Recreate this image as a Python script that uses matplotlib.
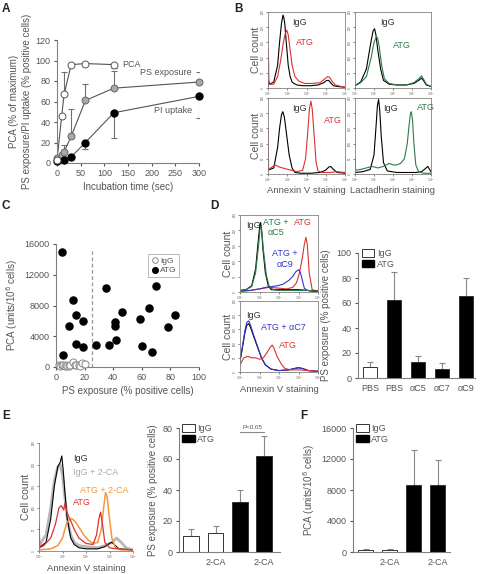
import matplotlib
matplotlib.use('Agg')
import matplotlib.pyplot as plt
from matplotlib.patches import Patch

plt.rcParams['font.family'] = ['Liberation Sans', 'DejaVu Sans']
TXT = '#555555'
EDGE = '#808080'
plt.rcParams.update({'text.color': TXT, 'axes.labelcolor': TXT, 'xtick.color': TXT,
                     'ytick.color': TXT, 'axes.edgecolor': EDGE, 'font.size': 6.5,
                     'axes.linewidth': 0.8, 'xtick.major.width': 0.8, 'ytick.major.width': 0.8,
                     'xtick.major.size': 2.5, 'ytick.major.size': 2.5,
                     'xtick.major.pad': 2, 'ytick.major.pad': 2})

RED = '#dd3030'
GREEN = '#2f7a4a'
BLUE = '#3535d0'
ORANGE = '#f5963a'
LGRAY = '#b8b8b8'

# ---------------- Panel A data ----------------
a_t_pca = [0, 10, 15, 30, 60, 120]
a_pca = [3, 46, 67, 96, 97, 96]
a_pca_up = [0, 0, 22, 0, 0, 2]
a_pca_dn = [0, 0, 0, 0, 0, 3]
a_t_ps = [0, 10, 15, 30, 60, 120, 300]
a_ps = [5, 8, 11, 26, 61, 73, 79]
a_ps_up = [0, 0, 7, 27, 16, 17, 10]
a_t_pi = [0, 15, 30, 60, 120, 300]
a_pi = [2, 3, 6, 20, 49, 65]
a_pi_dn = [0, 0, 0, 6, 25, 21]

# ---------------- Panel B histograms (log10 fluorescence, % of axis height) ----------------
b_tl_igg_x = [0, 0.02, 0.1, 0.3, 0.5, 0.6, 0.7, 0.78, 0.82, 0.87, 0.95, 1.05, 1.15, 1.25, 1.35, 1.5, 1.8, 2.2, 2.6, 2.9, 3.05, 3.15, 3.25, 3.4, 3.6, 4.0]
b_tl_igg_y = [2, 10, 5, 8, 30, 60, 85, 96, 93, 85, 60, 30, 15, 8, 6, 4, 3, 3, 4, 7, 10, 10, 7, 3, 2, 1]
b_tl_atg_x = [0, 0.02, 0.05, 0.3, 0.5, 0.65, 0.8, 0.9, 0.98, 1.05, 1.15, 1.25, 1.4, 1.6, 1.9, 2.3, 2.7, 2.95, 3.1, 3.2, 3.35, 3.5, 3.8, 4.0]
b_tl_atg_y = [52, 50, 5, 5, 15, 35, 60, 72, 76, 70, 50, 30, 15, 9, 6, 6, 7, 12, 15, 14, 8, 4, 2, 1]
b_tr_igg_x = [0, 0.3, 0.6, 0.8, 0.95, 1.03, 1.1, 1.2, 1.35, 1.5, 1.8, 2.2, 2.7, 3.1, 3.35, 3.5, 3.6, 3.75, 4.0]
b_tr_igg_y = [3, 8, 25, 55, 75, 78, 70, 50, 25, 10, 5, 4, 4, 6, 10, 13, 10, 4, 2]
b_tr_atg_x = [0, 0.3, 0.6, 0.85, 1.0, 1.12, 1.19, 1.27, 1.4, 1.55, 1.8, 2.2, 2.7, 3.1, 3.35, 3.5, 3.6, 3.75, 4.0]
b_tr_atg_y = [3, 7, 15, 40, 60, 67, 66, 55, 30, 12, 6, 4, 4, 7, 12, 16, 12, 5, 2]
b_bl_igg_x = [0, 0.3, 0.5, 0.6, 0.7, 0.77, 0.85, 0.95, 1.1, 1.25, 1.4, 1.7, 2.2, 2.7, 3.0, 3.15, 3.26, 3.4, 3.6, 4.0]
b_bl_igg_y = [5, 8, 35, 60, 78, 82, 75, 55, 25, 8, 2, 1, 1, 2, 5, 9, 10, 6, 2, 1]
b_bl_atg_x = [0, 0.01, 0.03, 0.2, 0.35, 0.6, 0.9, 1.2, 1.5, 1.8, 1.95, 2.05, 2.15, 2.23, 2.3, 2.4, 2.5, 2.6, 2.8, 3.2, 3.6, 4.0]
b_bl_atg_y = [60, 60, 6, 9, 12, 9, 7, 5, 3, 5, 20, 50, 85, 96, 85, 50, 15, 4, 2, 2, 3, 2]
b_br_igg_x = [0, 0.4, 0.8, 1.0, 1.1, 1.18, 1.24, 1.3, 1.38, 1.5, 1.7, 2.2, 2.7, 3.2, 3.5, 3.7, 3.83, 3.95, 4.0]
b_br_igg_y = [2, 3, 6, 25, 60, 90, 98, 85, 50, 15, 4, 2, 2, 2, 3, 7, 10, 5, 3]
b_br_atg_x = [0, 0.01, 0.03, 0.3, 0.6, 0.9, 1.2, 1.5, 1.8, 2.0, 2.2, 2.4, 2.6, 2.75, 2.85, 2.92, 2.97, 3.03, 3.1, 3.2, 3.35, 3.6, 4.0]
b_br_atg_y = [20, 20, 5, 6, 8, 10, 8, 10, 14, 12, 12, 14, 20, 40, 65, 80, 82, 70, 40, 12, 3, 1, 1]

# ---------------- Panel C data ----------------
c_igg_x = [2, 3, 4, 5, 6, 7, 8, 9, 10, 12, 13, 14, 16, 17, 18, 20]
c_igg_y = [300, 100, 200, 300, 100, 300, 150, 100, 200, 600, 200, 300, 300, 100, 500, 400]
c_atg_x = [4, 5, 9, 12, 14, 14, 19, 19, 28, 35, 37, 41, 41, 42, 46, 59, 60, 65, 67, 70, 78, 83]
c_atg_y = [15000, 1600, 5300, 8700, 6700, 3000, 6000, 2600, 2900, 10300, 2900, 5900, 5300, 3500, 7200, 6300, 2700, 7700, 1900, 10600, 5200, 6700]
c_cutoff = 25
c_cutoff_top = 15300

# ---------------- Panel D histograms ----------------
d1_igg_x = [0, 0.3, 0.6, 0.8, 0.95, 1.02, 1.06, 1.1, 1.18, 1.3, 1.45, 1.6, 2.0, 2.5, 3.0, 3.5, 4.0]
d1_igg_y = [2, 3, 8, 30, 70, 88, 90, 82, 55, 25, 8, 3, 3, 3, 3, 2, 1]
d1_c5_x = [0, 0.3, 0.6, 0.8, 0.95, 1.03, 1.08, 1.12, 1.2, 1.35, 1.5, 1.7, 2.0, 2.5, 3.0, 3.5, 4.0]
d1_c5_y = [2, 3, 7, 25, 60, 82, 85, 78, 55, 22, 7, 3, 2, 2, 2, 2, 1]
d1_atg_x = [0, 0.5, 1.0, 1.5, 2.0, 2.4, 2.7, 2.9, 3.05, 3.2, 3.3, 3.38, 3.45, 3.55, 3.7, 4.0]
d1_atg_y = [1, 2, 4, 6, 5, 4, 6, 12, 25, 45, 62, 71, 62, 25, 3, 1]
d1_c9_x = [0, 0.5, 1.0, 1.3, 1.6, 1.9, 2.2, 2.5, 2.7, 2.85, 2.95, 3.02, 3.1, 3.2, 3.3, 3.45, 3.7, 4.0]
d1_c9_y = [1, 2, 4, 6, 7, 8, 10, 15, 20, 26, 28, 29, 25, 15, 5, 2, 1, 1]
d2_x = [0, 0.1, 0.25, 0.35, 0.45, 0.55, 0.7, 0.9, 1.1, 1.3, 1.6, 2.0, 2.5, 2.8, 3.0, 3.2, 3.5, 4.0]
d2_igg_y = [15, 30, 55, 66, 68, 62, 50, 35, 20, 10, 4, 2, 3, 5, 6, 5, 2, 1]
d2_c7_y = [15, 32, 58, 70, 72, 65, 52, 36, 20, 10, 4, 2, 3, 5, 6, 5, 2, 1]
d2_atg_x = [0, 0.2, 0.4, 0.6, 0.8, 1.0, 1.2, 1.4, 1.55, 1.65, 1.75, 1.9, 2.1, 2.3, 2.6, 3.0, 3.5, 4.0]
d2_atg_y = [10, 20, 22, 20, 20, 18, 20, 28, 35, 38, 33, 22, 12, 5, 3, 3, 2, 1]

# ---------------- Panel D bars ----------------
d_cats = ['PBS', 'PBS', 'αC5', 'αC7', 'αC9']
d_groups = ['IgG', 'ATG', 'ATG', 'ATG', 'ATG']
d_vals = [9, 62.5, 13, 7.5, 66]
d_errs = [4, 22.5, 4.5, 4.5, 14]

# ---------------- Panel E histogram ----------------
e_igg_x = [0, 0.3, 0.5, 0.65, 0.8, 0.9, 0.97, 1.03, 1.1, 1.2, 1.35, 1.5, 1.7, 2.0, 2.5, 2.8, 3.0, 3.1, 3.2, 3.4, 4.0]
e_igg_y = [3, 8, 30, 60, 78, 82, 88, 75, 55, 30, 12, 6, 3, 2, 2, 4, 7, 8, 6, 2, 1]
e_igg2_x = [0, 0.3, 0.5, 0.65, 0.8, 0.9, 1.0, 1.1, 1.2, 1.35, 1.5, 1.7, 2.0, 2.5, 2.8, 3.1, 3.3, 3.5, 3.7, 4.0]
e_igg2_y = [5, 15, 40, 65, 78, 80, 70, 50, 30, 15, 8, 5, 4, 3, 5, 8, 12, 8, 3, 1]
e_atg_x = [0, 0.01, 0.03, 0.2, 0.5, 0.7, 0.85, 0.95, 1.05, 1.1, 1.2, 1.35, 1.5, 1.7, 2.0, 2.3, 2.45, 2.55, 2.62, 2.7, 2.8, 3.0, 3.3, 4.0]
e_atg_y = [25, 25, 3, 5, 12, 25, 40, 42, 38, 44, 35, 28, 20, 12, 7, 6, 15, 30, 36, 25, 8, 3, 2, 1]
e_atg2_x = [0, 0.5, 0.8, 1.0, 1.1, 1.2, 1.3, 1.4, 1.55, 1.7, 1.9, 2.1, 2.3, 2.5, 2.65, 2.75, 2.83, 2.9, 3.0, 3.1, 3.25, 3.5, 4.0]
e_atg2_y = [1, 2, 5, 12, 20, 27, 29, 30, 27, 22, 15, 10, 7, 8, 20, 40, 54, 50, 30, 12, 3, 1, 1]

# ---------------- Panel E / F bars ----------------
ef_cats = ['', '2-CA', '', '2-CA']
ef_groups = ['IgG', 'IgG', 'ATG', 'ATG']
e_vals = [10.5, 12.2, 32.5, 62]
e_errs = [4.5, 4.8, 7.5, 13]
f_vals = [200, 200, 8600, 8700]
f_errs = [200, 150, 4500, 3200]

W, H = 480, 574
fig = plt.figure(figsize=(4.8, 5.74), dpi=100)


def box(x0, y0, x1, y1):
    return fig.add_axes([x0 / W, 1 - y1 / H, (x1 - x0) / W, (y1 - y0) / H])


def letter(x, y, s):
    fig.text(x / W, 1 - y / H, s, fontsize=8.5, fontweight='bold', color='#222222', va='top', ha='left')


def lspines(ax):
    for s in ['top', 'right']:
        ax.spines[s].set_visible(False)


# ================= Panel A =================
letter(2, 3, 'A')
ax = box(57, 40, 199, 163)
lspines(ax)
ax.plot(a_t_ps, a_ps, '-', color='#555555', lw=0.8, zorder=2)
ax.errorbar(a_t_ps, a_ps, yerr=[[0] * len(a_ps), a_ps_up], fmt='none', ecolor='#707070', elinewidth=0.8, capsize=2, capthick=0.8, zorder=1)
ax.plot(a_t_ps, a_ps, 'o', mfc='#a8a8a8', mec='#666666', ms=5, mew=0.7, zorder=3, clip_on=False)
ax.plot(a_t_pi, a_pi, '-', color='#555555', lw=0.8, zorder=2)
ax.errorbar(a_t_pi, a_pi, yerr=[a_pi_dn, [0] * len(a_pi)], fmt='none', ecolor='#707070', elinewidth=0.8, capsize=2, capthick=0.8, zorder=1)
ax.plot(a_t_pi, a_pi, 'o', mfc='black', mec='black', ms=5, zorder=4, clip_on=False)
ax.plot(a_t_pca, a_pca, '-', color='#555555', lw=0.8, zorder=2)
ax.errorbar(a_t_pca, a_pca, yerr=[a_pca_dn, a_pca_up], fmt='none', ecolor='#707070', elinewidth=0.8, capsize=2, capthick=0.8, zorder=1)
ax.plot(a_t_pca, a_pca, 'o', mfc='white', mec='#555555', ms=5, mew=0.7, zorder=5, clip_on=False)
ax.set_xlim(0, 300)
ax.set_ylim(0, 120)
ax.set_xticks(range(0, 301, 50))
ax.set_yticks(range(0, 121, 20))
ax.set_xlabel('Incubation time (sec)', fontsize=7, labelpad=3)
ax.set_ylabel('PCA (% of maximum)\nPS exposure/PI uptake (% positive cells)', fontsize=7, labelpad=3, linespacing=1.3)
ax.text(137, 96, 'PCA', fontsize=6.5, va='center', ha='left')
ax.text(285, 88, 'PS exposure', fontsize=6.5, va='center', ha='right')
ax.text(285, 51, 'PI uptake', fontsize=6.5, va='center', ha='right')


# ================= Histogram helper =================
def hist_ax(x0, y0, x1, y1, full_box=True):
    ax = box(x0, y0, x1, y1)
    ax.set_xlim(0, 4)
    ax.set_ylim(0, 100)
    ax.set_xticks([0, 1, 2, 3, 4])
    ax.set_xticklabels(['$10^0$', '$10^1$', '$10^2$', '$10^3$', '$10^4$'], fontsize=2.3)
    ax.set_yticks([0, 20, 40, 60, 80, 100])
    ax.set_yticklabels(['0', '50', '100', '150', '200', '250'], fontsize=2.1, rotation=90, va='center')
    ax.tick_params(length=1.2, width=0.5, pad=0.8)
    for s in ax.spines.values():
        s.set_linewidth(0.6)
    if not full_box:
        lspines(ax)
    return ax


# ================= Panel B =================
letter(234, 3, 'B')
ax = hist_ax(268, 12, 345, 88)
ax.plot(b_tl_igg_x, b_tl_igg_y, color='black', lw=0.8)
ax.plot(b_tl_atg_x, b_tl_atg_y, color=RED, lw=0.8)
ax.text(1.25, 86, 'IgG', fontsize=6.5, color='#333333', va='center')
ax.text(1.45, 60, 'ATG', fontsize=6.5, color=RED, va='center')
ax.set_ylabel('Cell count', fontsize=7.5, labelpad=0.5)

ax = hist_ax(355, 12, 431, 88)
ax.plot(b_tr_igg_x, b_tr_igg_y, color='black', lw=0.8)
ax.plot(b_tr_atg_x, b_tr_atg_y, color=GREEN, lw=0.8)
ax.text(1.3, 86, 'IgG', fontsize=6.5, color='#333333', va='center')
ax.text(2.0, 56, 'ATG', fontsize=6.5, color=GREEN, va='center')

ax = hist_ax(268, 98, 345, 174)
ax.plot(b_bl_igg_x, b_bl_igg_y, color='black', lw=0.8)
ax.plot(b_bl_atg_x, b_bl_atg_y, color=RED, lw=0.8)
ax.text(1.25, 86, 'IgG', fontsize=6.5, color='#333333', va='center')
ax.text(2.9, 71, 'ATG', fontsize=6.5, color=RED, va='center')
ax.set_ylabel('Cell count', fontsize=7.5, labelpad=0.5)
ax.set_xlabel('Annexin V staining', fontsize=6.8, labelpad=1)

ax = hist_ax(355, 98, 431, 174)
ax.plot(b_br_igg_x, b_br_igg_y, color='black', lw=0.8)
ax.plot(b_br_atg_x, b_br_atg_y, color=GREEN, lw=0.8)
ax.text(1.5, 86, 'IgG', fontsize=6.5, color='#333333', va='center')
ax.text(3.25, 88, 'ATG', fontsize=6.5, color=GREEN, va='center')
ax.set_xlabel('Lactadherin staining', fontsize=6.8, labelpad=1)

# ================= Panel C =================
letter(2, 200, 'C')
ax = box(56, 244, 199, 367)
lspines(ax)
ax.plot([c_cutoff, c_cutoff], [0, c_cutoff_top], color='#999999', lw=0.9, ls=(0, (3, 2)))
ax.scatter(c_igg_x, c_igg_y, s=26, facecolor='white', edgecolor='#888888', lw=0.7, zorder=3, clip_on=False, label='IgG')
ax.scatter(c_atg_x, c_atg_y, s=26, facecolor='black', edgecolor='black', zorder=4, clip_on=False, label='ATG')
ax.set_xlim(0, 100)
ax.set_ylim(0, 16000)
ax.set_xticks(range(0, 101, 20))
ax.set_yticks(range(0, 16001, 4000))
ax.set_xlabel('PS exposure (% positive cells)', fontsize=7, labelpad=3)
ax.set_ylabel('PCA (units/10$^6$ cells)', fontsize=7, labelpad=3)
leg = ax.legend(loc='upper right', bbox_to_anchor=(0.89, 0.95), fontsize=6, handletextpad=0.1,
                borderpad=0.3, labelspacing=0.2, handlelength=1, frameon=True, fancybox=False,
                markerscale=0.8, scatterpoints=1)
leg.get_frame().set_edgecolor('#999999')
leg.get_frame().set_linewidth(0.6)

# ================= Panel D =================
letter(210, 200, 'D')
ax = hist_ax(240, 215, 318, 292)
ax.plot(d1_atg_x, d1_atg_y, color=RED, lw=0.8)
ax.plot(d1_c9_x, d1_c9_y, color=BLUE, lw=0.8)
ax.plot(d1_igg_x, d1_igg_y, color='black', lw=0.8)
ax.plot(d1_c5_x, d1_c5_y, color=GREEN, lw=0.8)
ax.text(0.3, 87, 'IgG', fontsize=6.5, color='#333333', va='center')
ax.text(1.85, 84, 'ATG +\nαC5', fontsize=6.5, color=GREEN, va='center', ha='center', linespacing=1.2)
ax.text(3.25, 90, 'ATG', fontsize=6.5, color=RED, va='center', ha='center')
ax.text(2.3, 43, 'ATG +\nαC9', fontsize=6.5, color=BLUE, va='center', ha='center', linespacing=1.2)
ax.set_ylabel('Cell count', fontsize=7.5, labelpad=0.5)

ax = hist_ax(240, 301, 318, 372)
ax.plot(d2_x, d2_igg_y, color='black', lw=0.8)
ax.plot(d2_x, d2_c7_y, color=BLUE, lw=0.8)
ax.plot(d2_atg_x, d2_atg_y, color=RED, lw=0.8)
ax.text(0.3, 80, 'IgG', fontsize=6.5, color='#333333', va='center')
ax.text(2.2, 62, 'ATG + αC7', fontsize=6.5, color=BLUE, va='center', ha='center')
ax.text(2.45, 38, 'ATG', fontsize=6.5, color=RED, va='center', ha='center')
ax.set_ylabel('Cell count', fontsize=7.5, labelpad=0.5)
ax.set_xlabel('Annexin V staining', fontsize=6.8, labelpad=2)


def bar_panel(ax, vals, errs, groups, cats, width):
    xs = list(range(len(vals)))
    for x, v, e, g in zip(xs, vals, errs, groups):
        fc = 'white' if g == 'IgG' else 'black'
        ax.bar(x, v, width=width, color=fc, edgecolor='#333333', lw=0.7, zorder=2)
        ax.errorbar(x, v, yerr=[[0], [e]], fmt='none', ecolor='#888888', elinewidth=0.8, capsize=2.5, capthick=0.8, zorder=1)
    ax.set_xticks(xs)
    ax.set_xticklabels(cats, fontsize=6.5)
    ax.tick_params(axis='x', length=0, pad=4)
    lspines(ax)
    handles = [Patch(facecolor='white', edgecolor='#333333', lw=0.7, label='IgG'),
               Patch(facecolor='black', edgecolor='black', label='ATG')]
    ax.legend(handles=handles, loc='upper left', bbox_to_anchor=(0.03, 1.03), fontsize=6.5, frameon=False,
              handlelength=1.4, handleheight=0.9, handletextpad=0.3, labelspacing=0.15, borderaxespad=0, borderpad=0)


ax = box(358, 253, 475, 378)
bar_panel(ax, d_vals, d_errs, d_groups, d_cats, 0.62)
ax.set_xlim(-0.5, 4.375)
ax.set_ylim(0, 100)
ax.set_yticks(range(0, 101, 20))
ax.set_ylabel('PS exposure (% positive cells)', fontsize=7, labelpad=4)

# ================= Panel E =================
letter(2, 410, 'E')
ax = hist_ax(39, 443, 133, 551, full_box=False)
ax.plot(e_igg2_x, e_igg2_y, color=LGRAY, lw=2.0)
ax.plot(e_igg_x, e_igg_y, color='black', lw=0.8)
ax.plot(e_atg2_x, e_atg2_y, color=ORANGE, lw=1.1)
ax.plot(e_atg_x, e_atg_y, color=RED, lw=0.9)
ax.text(1.45, 86, 'IgG', fontsize=6.5, color='#333333', va='center')
ax.text(1.45, 73, 'IgG + 2-CA', fontsize=6.5, color='#aaaaaa', va='center')
ax.text(1.75, 56, 'ATG + 2-CA', fontsize=6.5, color=ORANGE, va='center')
ax.text(1.45, 45, 'ATG', fontsize=6.5, color=RED, va='center')
ax.set_ylabel('Cell count', fontsize=7.5, labelpad=1)
ax.set_xlabel('Annexin V staining', fontsize=6.8, labelpad=2)

ax = box(179, 428, 280, 552)
bar_panel(ax, e_vals, e_errs, ef_groups, ef_cats, 0.65)
ax.set_xlim(-0.5, 3.65)
ax.set_ylim(0, 80)
ax.set_yticks(range(0, 81, 20))
ax.set_ylabel('PS exposure (% positive cells)', fontsize=7, labelpad=3)
ax.plot([2, 3], [77.5, 77.5], color='#888888', lw=0.8)
ax.text(2.5, 79, 'P<0.05', fontsize=4.5, ha='center', va='bottom')

# ================= Panel F =================
letter(300, 410, 'F')
ax = box(353, 428, 450, 552)
bar_panel(ax, f_vals, f_errs, ef_groups, ef_cats, 0.62)
ax.set_xlim(-0.52, 3.5)
ax.set_ylim(0, 16000)
ax.set_yticks(range(0, 16001, 4000))
ax.set_ylabel('PCA (units/10$^6$ cells)', fontsize=7, labelpad=3)

fig.savefig('out.png', dpi=100)
